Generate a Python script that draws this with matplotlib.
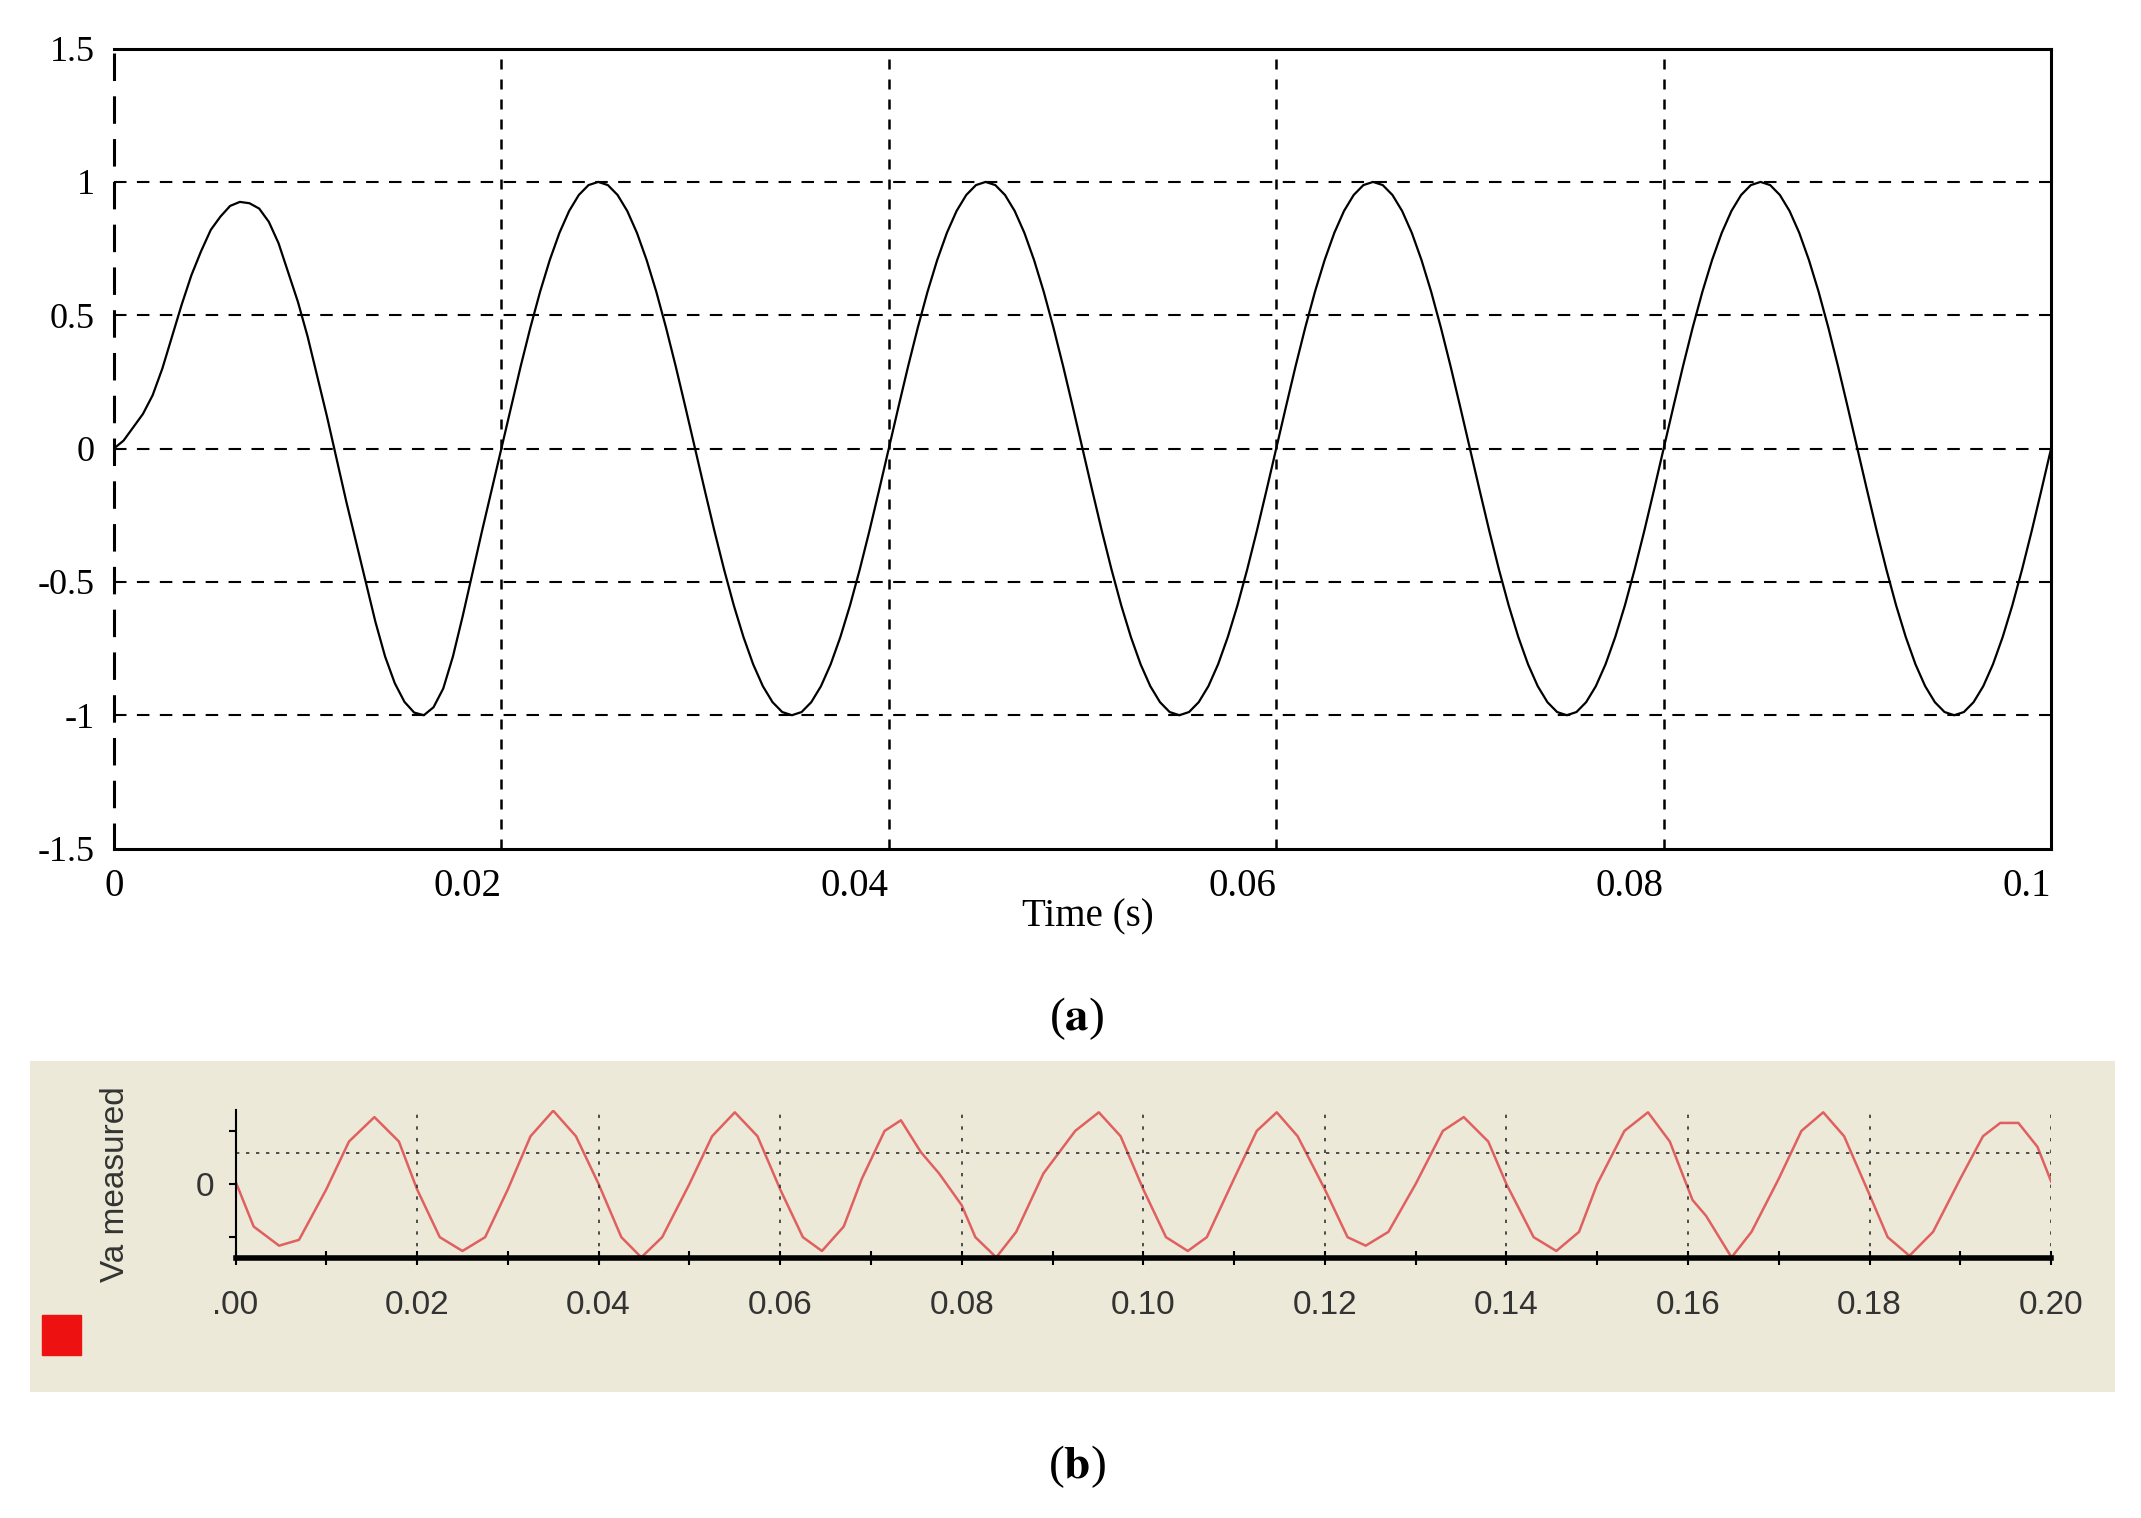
import matplotlib
matplotlib.use("Agg")
import matplotlib.pyplot as plt
import numpy as np

plt.rcParams["mathtext.fontset"] = "stix"

# Panel (a) data: time (s) and value, read every 0.5 ms
ta = [i * 0.0005 for i in range(201)]
va_first = [0.0, 0.03, 0.08, 0.13, 0.2, 0.3, 0.42, 0.54, 0.65, 0.74, 0.82, 0.87, 0.91, 0.925,
            0.92, 0.9, 0.85, 0.77, 0.66, 0.55, 0.42, 0.27, 0.12, -0.04,
            -0.2, -0.35, -0.5, -0.65, -0.78, -0.88, -0.95, -0.99, -1.0, -0.97, -0.9,
            -0.78, -0.63, -0.47, -0.31, -0.155]
va_cycle = [0.0, 0.156, 0.309, 0.454, 0.588, 0.707, 0.809, 0.891, 0.951, 0.988,
            1.0, 0.988, 0.951, 0.891, 0.809, 0.707, 0.588, 0.454, 0.309, 0.156,
            0.0, -0.156, -0.309, -0.454, -0.588, -0.707, -0.809, -0.891, -0.951, -0.988,
            -1.0, -0.988, -0.951, -0.891, -0.809, -0.707, -0.588, -0.454, -0.309, -0.156]
va = va_first + va_cycle * 4 + [0.0]

a_xticks = [0, 0.02, 0.04, 0.06, 0.08, 0.1]
a_xlabels = ["0", "0.02", "0.04", "0.06", "0.08", "0.1"]
a_yticks = [-1.5, -1, -0.5, 0, 0.5, 1, 1.5]
a_ylabels = ["-1.5", "-1", "-0.5", "0", "0.5", "1", "1.5"]

# Panel (b) data: measured waveform knots
tb = [0.000, 0.002, 0.0048, 0.007, 0.010, 0.0125, 0.0153, 0.018, 0.020, 0.0225, 0.025,
      0.0275, 0.030, 0.0325, 0.035, 0.0375, 0.040, 0.0425, 0.0447, 0.047, 0.050, 0.0525,
      0.055, 0.0575, 0.060, 0.0625, 0.0646, 0.067, 0.069, 0.0715, 0.0733, 0.0755, 0.0775,
      0.0800, 0.0815, 0.0838, 0.086, 0.089, 0.0925, 0.0951, 0.0975, 0.100, 0.1025, 0.1049,
      0.107, 0.110, 0.1125, 0.1147, 0.117, 0.120, 0.1225, 0.1245, 0.127, 0.130, 0.1330,
      0.1353, 0.138, 0.140, 0.143, 0.1455, 0.148, 0.150, 0.153, 0.1556, 0.158, 0.1605,
      0.162, 0.1648, 0.167, 0.170, 0.1725, 0.1749, 0.1772, 0.180, 0.182, 0.1844, 0.187,
      0.190, 0.1925, 0.1944, 0.1964, 0.1985, 0.200]
vb = [0.05, -0.8, -1.16, -1.05, -0.1, 0.8, 1.26, 0.8, -0.1, -1.0, -1.26,
      -1.0, -0.1, 0.9, 1.38, 0.9, 0.0, -1.0, -1.38, -1.0, 0.0, 0.9,
      1.35, 0.9, -0.1, -1.0, -1.26, -0.8, 0.1, 1.0, 1.2, 0.6, 0.2,
      -0.4, -1.0, -1.38, -0.9, 0.2, 1.0, 1.35, 0.9, -0.1, -1.0, -1.26,
      -1.0, 0.1, 1.0, 1.35, 0.9, -0.1, -1.0, -1.16, -0.9, 0.0, 1.0,
      1.26, 0.8, 0.0, -1.0, -1.26, -0.9, 0.0, 1.0, 1.35, 0.8, -0.3,
      -0.6, -1.38, -0.9, 0.1, 1.0, 1.35, 0.9, -0.2, -1.0, -1.35, -0.9,
      0.1, 0.9, 1.15, 1.15, 0.7, 0.05]
b_xticks = [0.00, 0.02, 0.04, 0.06, 0.08, 0.10, 0.12, 0.14, 0.16, 0.18, 0.20]
b_xlabels = [".00", "0.02", "0.04", "0.06", "0.08", "0.10", "0.12", "0.14", "0.16", "0.18", "0.20"]

serif = "Liberation Serif"
fig = plt.figure(figsize=(21.41, 15.18), dpi=100)

# ---------- Panel (a)
ax = fig.add_axes([0.0532, 0.441, 0.9048, 0.527])
ax.plot(ta, va, color="black", lw=1.6)
ax.set_xlim(0, 0.1)
ax.set_ylim(-1.5, 1.5)
for x in [0.02, 0.04, 0.06, 0.08]:
    ax.axvline(x, color="black", ls=(0, (4, 4)), lw=1.8)
for y in [-1, -0.5, 0, 0.5, 1]:
    ax.axhline(y, color="black", ls=(0, (6, 5)), lw=1.5)
ax.spines["left"].set_linestyle((0, (8, 6)))
for s in ax.spines.values():
    s.set_linewidth(2.2)
ax.tick_params(length=0, pad=14)
ax.set_xticks(a_xticks)
ax.set_xticklabels(a_xlabels, fontfamily=serif, fontsize=28)
ax.set_yticks(a_yticks)
ax.set_yticklabels(a_ylabels, fontfamily=serif, fontsize=26)
for l in ax.get_xticklabels():
    l.set_horizontalalignment("right" if l.get_text() != "0" else "center")
fig.text(0.508, 0.396, "Time (s)", fontfamily=serif, fontsize=28, ha="center", va="center")
fig.text(0.503, 0.329, r"($\mathbf{a}$)", fontfamily=serif, fontsize=34, ha="center", va="center")
fig.text(0.503, 0.034, r"($\mathbf{b}$)", fontfamily=serif, fontsize=34, ha="center", va="center")

# ---------- Panel (b)
bgax = fig.add_axes([0.014, 0.083, 0.974, 0.218], zorder=-5)
bgax.set_facecolor("#ece9d8")
bgax.set_xticks([]); bgax.set_yticks([])
for s in bgax.spines.values():
    s.set_visible(False)

bx = fig.add_axes([0.110, 0.171, 0.848, 0.098], zorder=1)
bx.set_facecolor("none")
bx.plot(tb, vb, color="#e06060", lw=1.8)
bx.set_xlim(0, 0.2)
bx.set_ylim(-1.4, 1.4)
for x in b_xticks[1:]:
    bx.axvline(x, color="#333333", ls=(0, (2, 5)), lw=1.2)
bx.axhline(0.59, color="#333333", ls=(0, (2, 4)), lw=1.2)
for s in ["top", "right"]:
    bx.spines[s].set_visible(False)
bx.spines["bottom"].set_linewidth(4)
bx.spines["left"].set_linewidth(1.5)
bx.set_xticks(b_xticks)
bx.set_xticks(np.arange(0.01, 0.2, 0.02), minor=True)
bx.set_xticklabels(b_xlabels, fontfamily="Liberation Sans", fontsize=24, color="#333333")
bx.tick_params(axis="x", which="both", length=10, width=1.5, direction="inout", pad=18)
bx.set_yticks([-1, 0, 1])
bx.set_yticklabels(["", "0", ""], fontfamily="Liberation Sans", fontsize=24, color="#333333")
bx.tick_params(axis="y", length=5, width=1.5, pad=10)
fig.text(0.054, 0.22, "Va measured", rotation=90, fontfamily="Liberation Sans",
         fontsize=24, color="#333333", ha="center", va="center")
sq = plt.Rectangle((0.0195, 0.1075), 0.0185, 0.0265, transform=fig.transFigure,
                   color="#ee1111", zorder=2)
fig.patches.append(sq)

fig.savefig("out.png", dpi=100, facecolor="white")
